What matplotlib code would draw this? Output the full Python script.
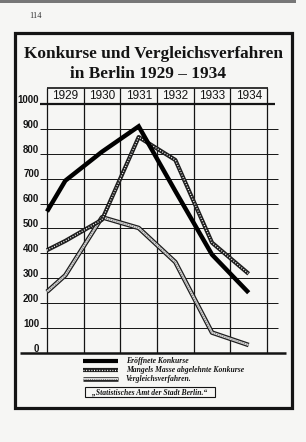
import matplotlib.pyplot as plt
from matplotlib.patches import Rectangle

# Daten
years = [1929, 1930, 1931, 1932, 1933, 1934]
x_pts = [1928.5, 1929, 1930, 1931, 1932, 1933, 1934]
eroeffnet = [568, 692, 808, 910, 650, 395, 242]      # Eröffnete Konkurse
mangels = [413, 450, 535, 867, 775, 443, 318]        # Mangels Masse abgelehnte Konkurse
vergleich = [246, 312, 545, 502, 365, 82, 32]        # Vergleichsverfahren
y_ticks = [0, 100, 200, 300, 400, 500, 600, 700, 800, 900, 1000]

labels = ['Eröffnete Konkurse',
          'Mangels Masse abgelehnte Konkurse',
          'Vergleichsverfahren.']

W, H = 306, 442
BG = '#f6f6f4'
INK = '#141414'

fig = plt.figure(figsize=(W / 100, H / 100), dpi=100, facecolor=BG)

# Pixelgeometrie des Diagramms
px_per_year = 36.67
x0_px = 47            # linker Rand = 1928.5
x_lo, x_hi = 1927.5, 1935.3
left_px = x0_px - (1928.5 - x_lo) * px_per_year
right_px = x0_px + (x_hi - 1928.5) * px_per_year
y_top_px, y_bot_px = 88, 353
y_top_val = 1064

ax = fig.add_axes([left_px / W, (H - y_bot_px) / H,
                   (right_px - left_px) / W, (y_bot_px - y_top_px) / H])
ax.set_xlim(x_lo, x_hi)
ax.set_ylim(0, y_top_val)
ax.axis('off')

# Gitter
ax.hlines(y_ticks[1:-1], 1928.31, 1934.8, lw=0.7, color=INK, zorder=1)
ax.hlines(1000, 1928.31, 1934.72, lw=1.6, color=INK, zorder=1)
ax.hlines(0, 1927.76, 1935.02, lw=1.8, color=INK, zorder=1, clip_on=False)
ax.hlines(y_top_val, 1928.5, 1934.53, lw=1.2, color=INK, zorder=1, clip_on=False)
ax.vlines([y - 0.5 for y in years] + [years[-1] + 0.5], 0, y_top_val,
          lw=0.9, color=INK, zorder=1, clip_on=False)

# Kopfzeile mit Jahren
for y in years:
    ax.text(y, 1031, str(y), ha='center', va='center', fontsize=8.5,
            family='Liberation Sans', color=INK)

# y-Beschriftung
for v in y_ticks:
    ax.text(1928.29, v + 5, str(v), ha='right', va='baseline', fontsize=7,
            family='Liberation Sans', weight='bold', color=INK)


def draw_mangels(a, x, y):
    a.plot(x, y, color='#1e1e1e', lw=3.0, solid_capstyle='butt', zorder=4)
    a.plot(x, y, color='white', lw=0.9, ls=(0, (0.8, 1.3)), zorder=4)


def draw_vergleich(a, x, y):
    a.plot(x, y, color='#1e1e1e', lw=3.3, solid_capstyle='butt', zorder=3)
    a.plot(x, y, color='#d8d8d8', lw=1.5, solid_capstyle='butt', zorder=3)
    a.plot(x, y, color='#555555', lw=0.6, ls=(0, (1, 1.6)), zorder=3)


# Linien
ax.plot(x_pts, eroeffnet, color='black', lw=3.2, solid_capstyle='butt',
        solid_joinstyle='miter', zorder=5)
draw_mangels(ax, x_pts, mangels)
draw_vergleich(ax, x_pts, vergleich)

# Überlagerung in Pixelkoordinaten: Rahmen, Titel, Legende
ov = fig.add_axes([0, 0, 1, 1])
ov.set_xlim(0, W)
ov.set_ylim(H, 0)
ov.axis('off')

ov.add_patch(Rectangle((0, 0), 296, 2.5, color='#777777', lw=0))
ov.add_patch(Rectangle((14.5, 32.5), 277, 375, fill=False, lw=2.3, ec=INK))
ov.text(36, 16, '114', ha='center', va='center', fontsize=6,
        family='Liberation Serif', color='#333333')

ov.text(153, 54, 'Konkurse und Vergleichsverfahren', ha='center', va='center',
        fontsize=12.4, family='Liberation Serif', weight='bold', color=INK)
ov.text(148, 74, 'in Berlin 1929 – 1934', ha='center', va='center',
        fontsize=12.4, family='Liberation Serif', weight='bold', color=INK)

# Legende
rows = [361, 370, 379]
sx0, sx1 = 83, 118
ov.plot([sx0, sx1], [rows[0]] * 2, color='black', lw=3.0, solid_capstyle='butt')
draw_mangels(ov, [sx0, sx1], [rows[1]] * 2)
draw_vergleich(ov, [sx0, sx1], [rows[2]] * 2)
for r, lab in zip(rows, labels):
    ov.text(126, r, lab, ha='left', va='center', fontsize=5.5,
            family='Liberation Serif', weight='bold', style='italic', color=INK)

ov.add_patch(Rectangle((85, 387), 130, 10, fill=False, lw=0.8, ec=INK))
ov.text(150, 392, '„Statistisches Amt der Stadt Berlin.“', ha='center', va='center',
        fontsize=5.5, family='Liberation Serif', weight='bold', style='italic', color=INK)

fig.savefig('out.png', dpi=100, facecolor=BG)
